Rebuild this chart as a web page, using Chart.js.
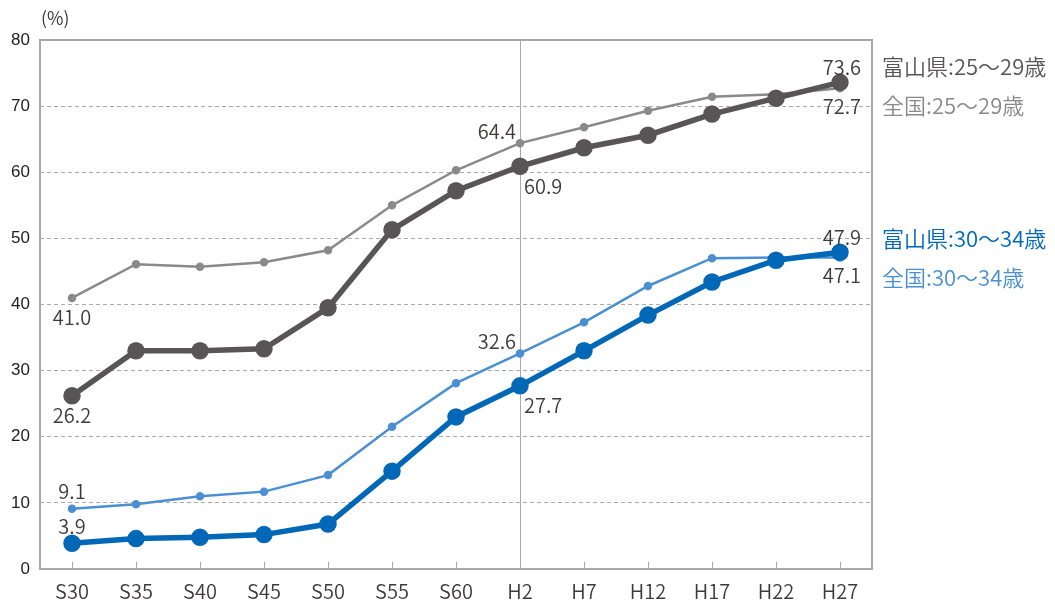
<!DOCTYPE html>
<html lang="ja">
<head>
<meta charset="UTF-8">
<title>未婚率の推移</title>
<script src="https://cdn.jsdelivr.net/npm/chart.js"></script>
<style>
  body { margin: 0; background: #fff; }
</style>
</head>
<body>
<canvas id="marriageChart" width="1055" height="604"></canvas>
<script>
const years = ['S30','S35','S40','S45','S50','S55','S60','H2','H7','H12','H17','H22','H27'];
const toyama25 = [26.2, 33.0, 33.0, 33.3, 39.5, 51.3, 57.2, 60.9, 63.7, 65.6, 68.8, 71.2, 73.6];
const zenkoku25 = [41.0, 46.1, 45.7, 46.4, 48.2, 55.0, 60.3, 64.4, 66.8, 69.3, 71.4, 71.8, 72.7];
const toyama30 = [3.9, 4.6, 4.8, 5.2, 6.8, 14.8, 23.0, 27.7, 33.0, 38.4, 43.4, 46.7, 47.9];
const zenkoku30 = [9.1, 9.8, 11.0, 11.7, 14.2, 21.5, 28.1, 32.6, 37.3, 42.8, 47.0, 47.1, 47.1];
const seriesNames = ['富山県:25～29歳', '全国:25～29歳', '富山県:30～34歳', '全国:30～34歳'];

const FONT = '"Noto Sans CJK JP", "Noto Sans", sans-serif';
const H2_INDEX = years.indexOf('H2');

// 値ラベル: [データセット番号, 項目番号, 位置]
const valueLabels = [
  [0, 0, 'below'], [1, 0, 'below'], [2, 0, 'above'], [3, 0, 'above'],
  [0, 7, 'belowRight'], [1, 7, 'aboveLeft'], [2, 7, 'belowRight'], [3, 7, 'aboveLeft'],
  [0, 12, 'endAbove'], [1, 12, 'endBelow'], [2, 12, 'endAbove'], [3, 12, 'endBelow']
];

const decorations = {
  id: 'decorations',
  beforeDatasetsDraw(chart) {
    const { ctx, chartArea: a, scales: { x } } = chart;
    ctx.save();
    // 目盛り（内向き）
    ctx.strokeStyle = '#aaa';
    ctx.lineWidth = 1;
    years.forEach((_, i) => {
      const px = Math.round(x.getPixelForValue(i)) + 0.5;
      ctx.beginPath();
      ctx.moveTo(px, a.bottom);
      ctx.lineTo(px, a.bottom - 7);
      ctx.stroke();
    });
    // 枠線
    ctx.strokeStyle = '#a8a8a8';
    ctx.lineWidth = 2;
    ctx.strokeRect(a.left, a.top, a.right - a.left, a.bottom - a.top);
    ctx.restore();
  },
  afterDatasetsDraw(chart) {
    const { ctx, chartArea: a, scales: { y } } = chart;
    ctx.save();
    ctx.font = '350 18px ' + FONT;
    ctx.fillStyle = '#333';
    ctx.textAlign = 'left';
    ctx.textBaseline = 'middle';
    ctx.fillText('(%)', 41, 18);

    // 値ラベル
    ctx.font = '350 20px ' + FONT;
    ctx.fillStyle = '#3e3a39';
    valueLabels.forEach(([d, i, pos]) => {
      const pt = chart.getDatasetMeta(d).data[i];
      const text = chart.data.datasets[d].data[i].toFixed(1);
      let tx = pt.x, ty = pt.y;
      if (pos === 'below') { ctx.textAlign = 'center'; ty += 20; }
      if (pos === 'above') { ctx.textAlign = 'center'; ty -= 17; }
      if (pos === 'belowRight') { ctx.textAlign = 'left'; tx += 4; ty += 20; }
      if (pos === 'aboveLeft') { ctx.textAlign = 'right'; tx -= 4; ty -= 12; }
      if (pos === 'endAbove') { ctx.textAlign = 'right'; tx += 21; ty -= 15; }
      if (pos === 'endBelow') { ctx.textAlign = 'right'; tx += 21; ty += 18; }
      ctx.fillText(text, tx, ty);
    });

    // 系列名
    const legendAt = [76, 70, 50, 44];
    ctx.font = '350 22px ' + FONT;
    ctx.textAlign = 'left';
    chart.data.datasets.forEach((ds, k) => {
      ctx.fillStyle = ds.borderColor;
      ctx.fillText(seriesNames[k], a.right + 10, y.getPixelForValue(legendAt[k]));
    });
    ctx.restore();
  }
};

new Chart('marriageChart', {
  type: 'line',
  data: {
    labels: years,
    datasets: [{
      label: seriesNames[0],
      data: toyama25,
      borderColor: '#575555',
      backgroundColor: '#575555',
      borderWidth: 5.5,
      pointRadius: 6,
      pointHoverRadius: 6
    }, {
      label: seriesNames[1],
      data: zenkoku25,
      borderColor: '#8a8a8a',
      backgroundColor: '#8a8a8a',
      borderWidth: 2.5,
      pointRadius: 3,
      pointHoverRadius: 3
    }, {
      label: seriesNames[2],
      data: toyama30,
      borderColor: '#0068b7',
      backgroundColor: '#0068b7',
      borderWidth: 5.5,
      pointRadius: 6,
      pointHoverRadius: 6
    }, {
      label: seriesNames[3],
      data: zenkoku30,
      borderColor: '#4a8fd2',
      backgroundColor: '#4a8fd2',
      borderWidth: 2.5,
      pointRadius: 3,
      pointHoverRadius: 3
    }]
  },
  options: {
    responsive: false,
    animation: false,
    events: [],
    layout: { padding: { top: 40, right: 183, left: 0, bottom: 0 } },
    plugins: { legend: { display: false }, tooltip: { enabled: false } },
    scales: {
      x: {
        offset: true,
        grid: {
          offset: false,
          drawTicks: false,
          color: ctx => ctx.index === H2_INDEX ? '#aaa' : 'rgba(0,0,0,0)',
          lineWidth: 1
        },
        border: { display: false },
        ticks: { color: '#3e3a39', font: { family: FONT, size: 20, weight: '350' }, padding: 10 },
        afterFit: s => { s.height = 35; }
      },
      y: {
        min: 0,
        max: 80,
        ticks: { stepSize: 10, color: '#222', font: { family: '"Liberation Sans Narrow", "Liberation Sans", sans-serif', size: 17 }, padding: 10 },
        grid: {
          drawTicks: false,
          color: ctx => (ctx.tick.value > 0 && ctx.tick.value < 80) ? '#aaa' : 'rgba(0,0,0,0)',
          lineWidth: 1
        },
        border: { display: false, dash: [4, 3] },
        afterFit: s => { s.width = 40; }
      }
    }
  },
  plugins: [decorations]
});
</script>
</body>
</html>
